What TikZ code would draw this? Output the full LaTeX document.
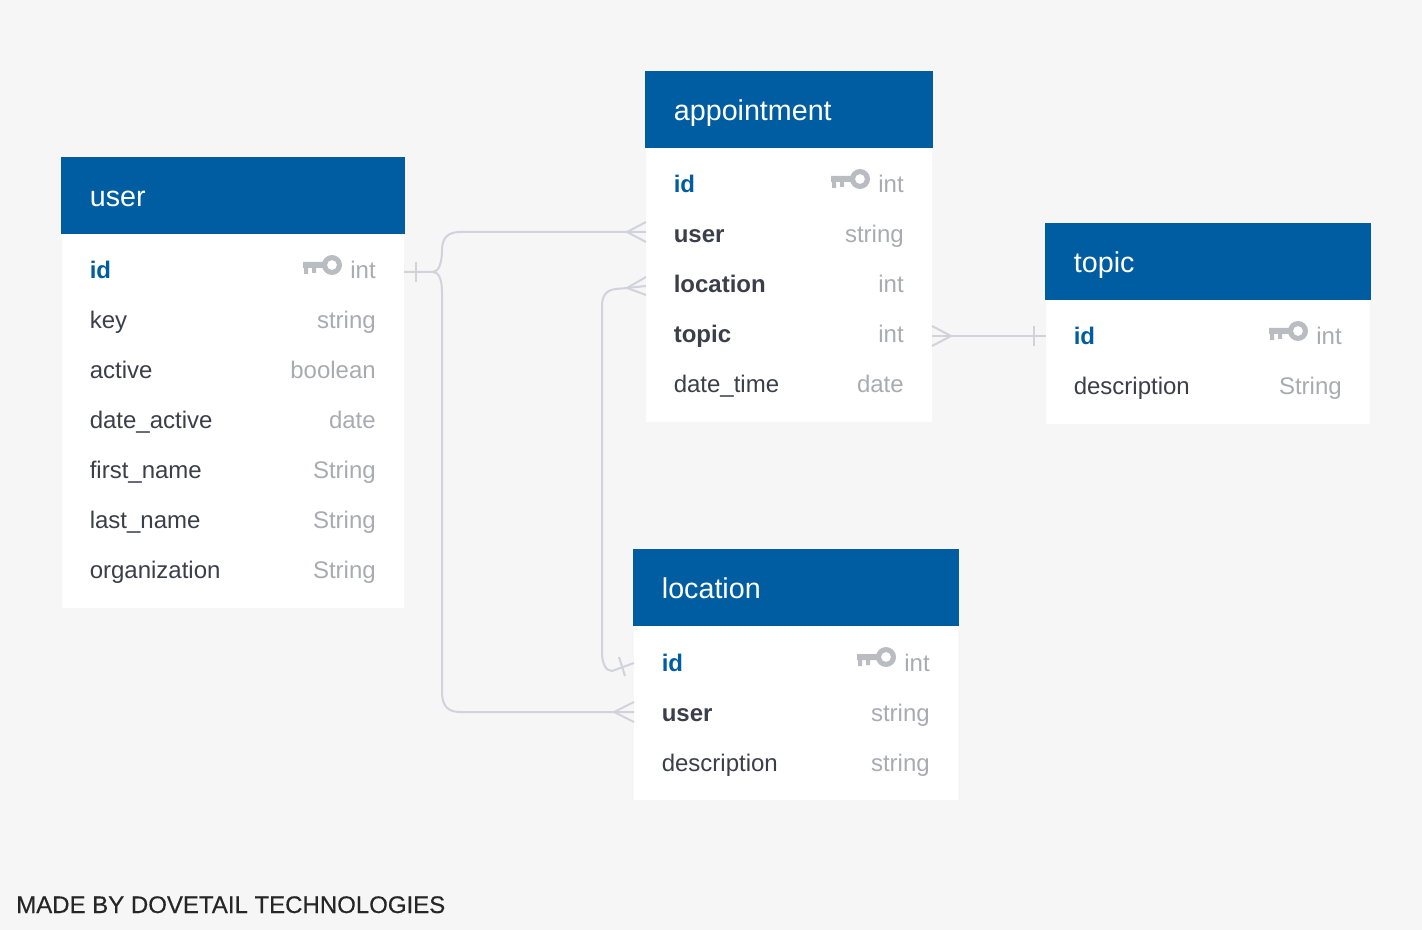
\documentclass[tikz,border=0pt]{standalone}
\usepackage{fontspec}
\setmainfont{Liberation Sans}
\newfontfamily\footfont[FakeBold=0.4]{Liberation Sans}
\definecolor{pagegray}{HTML}{F6F6F7}
\definecolor{headblue}{HTML}{005DA2}
\definecolor{textdark}{HTML}{3A3F4A}
\definecolor{textgray}{HTML}{A8ACB2}
\definecolor{keygray}{HTML}{B9BCC1}
\definecolor{linegray}{HTML}{D2D2DC}
\tikzset{
  tablehead/.style={fill=headblue, text=white, anchor=north west, inner xsep=21.5pt, inner ysep=0pt, minimum height=57.75pt, text width=#1, text height=16.5pt, text depth=0pt, font=\fontsize{21.5}{24}\selectfont},
  tablebody/.style={fill=white, anchor=north west, inner sep=0pt, minimum width=#1},
  rowplain/.style={anchor=base west, inner sep=0pt, text=textdark, font=\fontsize{18}{20}\selectfont},
  rowref/.style={rowplain, font=\fontsize{18}{20}\selectfont\bfseries},
  rowid/.style={rowref, text=headblue},
  rowtype/.style={anchor=base east, inner sep=0pt, text=textgray, font=\fontsize{18}{20}\selectfont},
  rel/.style={draw=linegray, line width=1.5pt},
  keyicon/.pic={
    \fill[keygray, even odd rule] (0,0) circle (10) (0,0) circle (5);
    \fill[keygray] (-29,-3) rectangle (-8,3) (-28,3) rectangle (-24,9) (-20,3) rectangle (-16,8);
  }
}
\begin{document}
\begin{tikzpicture}[x=0.75pt, y=-0.75pt]
\fill[pagegray] (0,0) rectangle (1422,930);

% Connector ends
\coordinate (user-out) at (404,272);
\coordinate (user-fork) at (433,272);
\coordinate (appt-user-in) at (646,232);
\coordinate (appt-loc-in) at (646,286);
\coordinate (appt-topic-out) at (932,336);
\coordinate (topic-in) at (1046,336);
\coordinate (loc-id-in) at (634,663);
\coordinate (loc-user-in) at (634,712);

% user
\node[tablebody=256.5pt, minimum height=280.5pt] (user-body) at (62,234) {};
\node[tablehead=214.5pt] (user-head) at (61,157) {user};
\foreach \rowname/\rowtype/\rowstyle [count=\i] in {id/int/rowid, key/string/rowplain, active/boolean/rowplain, date\_active/date/rowplain, first\_name/String/rowplain, last\_name/String/rowplain, organization/String/rowplain} {
  \node[\rowstyle] (user-name-\i) at (89.5,229+\i*50) {\rowname};
  \node[rowtype] (user-type-\i) at (376,229+\i*50) {\rowtype};
}

% appointment
\node[tablebody=214.5pt, minimum height=205.5pt] (appt-body) at (646,148) {};
\node[tablehead=172.5pt] (appt-head) at (645,71) {appointment};
\foreach \rowname/\rowtype/\rowstyle [count=\i] in {id/int/rowid, user/string/rowref, location/int/rowref, topic/int/rowref, date\_time/date/rowplain} {
  \node[\rowstyle] (appt-name-\i) at (673.5,143+\i*50) {\rowname};
  \node[rowtype] (appt-type-\i) at (904,143+\i*50) {\rowtype};
}

% topic
\node[tablebody=243pt, minimum height=93pt] (topic-body) at (1046,300) {};
\node[tablehead=201pt] (topic-head) at (1045,223) {topic};
\foreach \rowname/\rowtype/\rowstyle [count=\i] in {id/int/rowid, description/String/rowplain} {
  \node[\rowstyle] (topic-name-\i) at (1073.5,295+\i*50) {\rowname};
  \node[rowtype] (topic-type-\i) at (1342,295+\i*50) {\rowtype};
}

% location
\node[tablebody=243pt, minimum height=130.5pt] (loc-body) at (634,626) {};
\node[tablehead=201pt] (loc-head) at (633,549) {location};
\foreach \rowname/\rowtype/\rowstyle [count=\i] in {id/int/rowid, user/string/rowref, description/string/rowplain} {
  \node[\rowstyle] (loc-name-\i) at (661.5,621+\i*50) {\rowname};
  \node[rowtype] (loc-type-\i) at (930,621+\i*50) {\rowtype};
}

% Keys
\foreach \x/\y in {332/265, 860/179, 1298/331, 886/657} {
  \pic at (\x,\y) {keyicon};
}

% user to appointment
\draw[rel] (user-out) -- (user-fork) .. controls (439,272) and (442,262) .. (442,250) .. controls (442,238) and (448,232) .. (460,232) -- (appt-user-in);
\draw[rel] (415.5,262) -- (415.5,282);
\draw[rel] (646,222) -- (627,232) -- (646,242);

% user to location
\draw[rel] (user-fork) .. controls (439,272) and (442,280) .. (442,292) -- (442,692) .. controls (442,706) and (448,712) .. (460,712) -- (loc-user-in);
\draw[rel] (634,702) -- (614,712) -- (634,722);

% appointment to location
\draw[rel] (appt-loc-in) -- (627,288) -- (616,289) .. controls (606,290) and (602,296) .. (602,306) -- (602,652) .. controls (602,664) and (606,671) .. (612,671) -- (loc-id-in);
\draw[rel] (619,657) -- (625,676);
\draw[rel] (646,277) -- (627,288) -- (646,295);

% appointment to topic
\draw[rel] (appt-topic-out) -- (topic-in);
\draw[rel] (932,326) -- (951,336) -- (932,346);
\draw[rel] (1033.5,326) -- (1033.5,346);

% Footer
\node[anchor=base west, inner sep=0pt, text=black!85, font=\footfont\fontsize{18}{22}\selectfont] (madeby) at (16,913) {MADE BY DOVETAIL TECHNOLOGIES};
\end{tikzpicture}
\end{document}
